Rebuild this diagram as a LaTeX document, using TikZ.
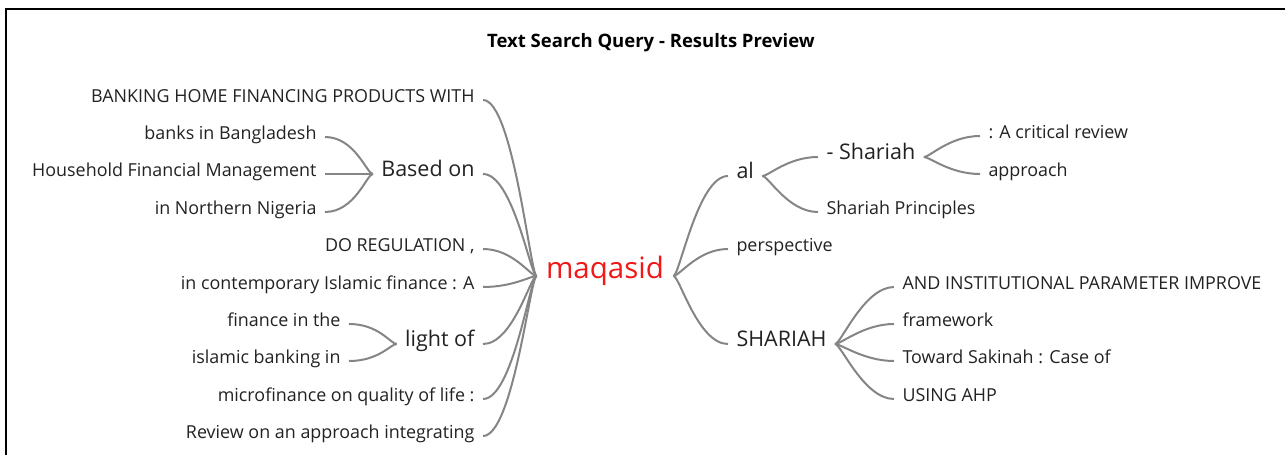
\documentclass[tikz,border=0pt]{standalone}
\usepackage{fontspec}
\setmainfont{Open Sans}
\usetikzlibrary{calc}
\definecolor{txt}{HTML}{222222}
\definecolor{ln}{HTML}{858585}
\definecolor{qred}{HTML}{F01818}
\tikzset{
  lbl/.style={inner sep=0pt, outer xsep=8.5pt, text=txt, font=\fontsize{17.9}{20}\selectfont},
  big/.style={lbl, font=\fontsize{21.5}{24}\selectfont},
  root/.style={inner sep=0pt, outer xsep=9.5pt, text=qred, font=\fontsize{29.5}{32}\selectfont},
  ttl/.style={inner sep=0pt, text=black, font=\bfseries\fontsize{18.5}{21}\selectfont},
  con/.style={draw=ln, line width=2pt},
}
\newcommand{\lcon}[2]{\draw[con] (#1.mid west) .. controls +(-6,0) and +(30,0) .. (#2.mid east);}
\newcommand{\rcon}[2]{\draw[con] (#1.mid east) .. controls +(6,0) and +(-30,0) .. (#2.mid west);}
\begin{document}
\begin{tikzpicture}[x=1pt,y=-1pt]
\useasboundingbox (0,0) rectangle (1285,455);
\draw[line width=2pt] (6,455) -- (6,9) -- (1285,9);
\node[ttl] (title) at (651,43) {Text Search Query - Results Preview};
\node[root] (m) at (605,271) {maqasid};
% left side
\node[lbl, anchor=mid east] (l1) at (483,100) {BANKING HOME FINANCING PRODUCTS WITH};
\node[big, anchor=mid east] (l2) at (483,174) {Based on};
\node[lbl, anchor=mid east] (l21) at (325,137) {banks in Bangladesh};
\node[lbl, anchor=mid east] (l22) at (325,174) {Household Financial Management};
\node[lbl, anchor=mid east] (l23) at (325,212) {in Northern Nigeria};
\node[lbl, anchor=mid east] (l3) at (483,249) {DO REGULATION ,};
\node[lbl, anchor=mid east] (l4) at (483,287) {in contemporary Islamic finance : A};
\node[big, anchor=mid east] (l5) at (483,344) {light of};
\node[lbl, anchor=mid east] (l51) at (349,324) {finance in the};
\node[lbl, anchor=mid east] (l52) at (349,361) {islamic banking in};
\node[lbl, anchor=mid east] (l6) at (483,399) {microfinance on quality of life :};
\node[lbl, anchor=mid east] (l7) at (483,436) {Review on an approach integrating};
% right side
\node[big, anchor=mid west] (r1) at (728,176) {al};
\node[big, anchor=mid west] (r11) at (818,157) {- Shariah};
\node[lbl, anchor=mid west] (r111) at (980,136) {: A critical review};
\node[lbl, anchor=mid west] (r112) at (980,174) {approach};
\node[lbl, anchor=mid west] (r12) at (818,212) {Shariah Principles};
\node[lbl, anchor=mid west] (r2) at (728,249) {perspective};
\node[big, anchor=mid west] (r3) at (728,344) {SHARIAH};
\node[lbl, anchor=mid west] (r31) at (894,287) {AND INSTITUTIONAL PARAMETER IMPROVE};
\node[lbl, anchor=mid west] (r32) at (894,324) {framework};
\node[lbl, anchor=mid west] (r33) at (894,361) {Toward Sakinah : Case of};
\node[lbl, anchor=mid west] (r34) at (894,399) {USING AHP};
% connectors
\foreach \c in {l1,l2,l3,l4,l5,l6,l7} {\lcon{m}{\c}}
\foreach \c in {l21,l22,l23} {\lcon{l2}{\c}}
\foreach \c in {l51,l52} {\lcon{l5}{\c}}
\foreach \c in {r1,r2,r3} {\rcon{m}{\c}}
\foreach \c in {r11,r12} {\rcon{r1}{\c}}
\foreach \c in {r111,r112} {\rcon{r11}{\c}}
\foreach \c in {r31,r32,r33,r34} {\rcon{r3}{\c}}
\end{tikzpicture}
\end{document}
